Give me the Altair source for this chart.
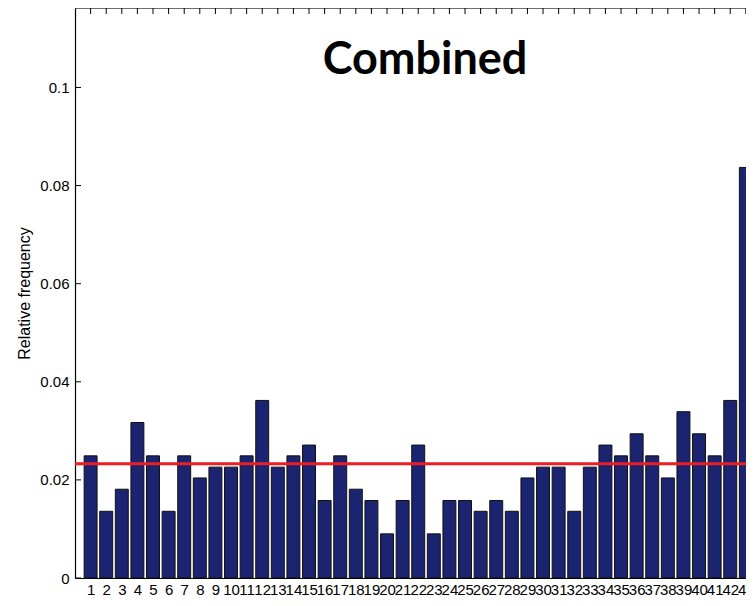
import altair as alt
import pandas as pd

# Data
positions = list(range(1, 44))
rel_freq = [
    0.0249, 0.0136, 0.0181, 0.0317, 0.0249, 0.0136, 0.0249, 0.0204, 0.0226, 0.0226,
    0.0249, 0.0362, 0.0226, 0.0249, 0.0271, 0.0158, 0.0249, 0.0181, 0.0158, 0.0090,
    0.0158, 0.0271, 0.0090, 0.0158, 0.0158, 0.0136, 0.0158, 0.0136, 0.0204, 0.0226,
    0.0226, 0.0136, 0.0226, 0.0271, 0.0249, 0.0294, 0.0249, 0.0204, 0.0339, 0.0294,
    0.0249, 0.0362, 0.0837,
]
expected = 0.0233
y_ticks = [0, 0.02, 0.04, 0.06, 0.08, 0.1]
title_text = "Combined"
y_title = "Relative frequency"

W, H = 671, 570
X_DOMAIN = [0, 43.01]
Y_DOMAIN = [0, 0.1162]

bars_df = pd.DataFrame({"pos": positions, "freq": rel_freq})
ticks_df = pd.DataFrame({"yv": y_ticks})
ref_df = pd.DataFrame({"yv": [expected]})

xs = alt.Scale(domain=X_DOMAIN, nice=False, zero=False)
ys = alt.Scale(domain=Y_DOMAIN, nice=False)

font = "Liberation Sans"

x_axis = alt.Axis(title=None, values=positions, format="d", ticks=False,
                  labelFontSize=15, labelFont=font, labelColor="#000000",
                  labelOverlap=False, labelFlush=False, labelPadding=4,
                  labelBound=False, domainColor="#000000", domainWidth=1.2,
                  grid=False)
y_axis = alt.Axis(title=y_title, values=y_ticks, format="~g", ticks=False,
                  labelFontSize=15, labelFont=font, labelColor="#000000",
                  labelPadding=6, domainColor="#000000", domainWidth=1.2,
                  grid=False, titleFont=font, titleFontSize=16,
                  titleFontWeight="normal", titleColor="#000000",
                  titleAngle=-90, titleX=-51, titleY=H / 2,
                  titleAlign="center", titleBaseline="middle")

bars = alt.Chart(bars_df).transform_calculate(
    x0="datum.pos - 0.415", x1="datum.pos + 0.415"
).mark_bar(color="#1b2470", stroke="#111111", strokeWidth=1, clip=True).encode(
    x=alt.X("x0:Q", scale=xs, axis=x_axis),
    x2="x1:Q",
    y=alt.Y("freq:Q", scale=ys, axis=y_axis),
    y2=alt.datum(0),
)

top_ticks = alt.Chart(bars_df).mark_rule(color="#000000", strokeWidth=1).encode(
    x=alt.X("pos:Q", scale=xs, axis=x_axis), y=alt.value(0), y2=alt.value(6)
)

y_tick_marks = alt.Chart(ticks_df).mark_rule(color="#000000", strokeWidth=1).encode(
    y=alt.Y("yv:Q", scale=ys, axis=y_axis), x=alt.value(0), x2=alt.value(6)
)

top_border = alt.Chart(ref_df).mark_rule(color="#000000", strokeWidth=1.2).encode(
    y=alt.value(0), x=alt.value(0), x2=alt.value(W)
)

ref_line = alt.Chart(ref_df).mark_rule(color="#ee1c25", strokeWidth=3).encode(
    y=alt.Y("yv:Q", scale=ys, axis=y_axis), x=alt.value(0), x2=alt.value(W)
)

title = alt.Chart(ref_df).mark_text(
    text=title_text, font="Lato", fontWeight="bold", fontSize=45,
    color="#000000", align="center", baseline="middle"
).encode(x=alt.value(350), y=alt.value(52))

chart = alt.layer(bars, top_ticks, y_tick_marks, top_border, ref_line, title).properties(
    width=W, height=H,
    autosize=alt.AutoSizeParams(type="none"),
    padding={"left": 67, "top": 0, "right": 0, "bottom": 18},
).configure_view(stroke=None).configure(background="#ffffff")

chart.save("out.html", embed_options={"renderer": "svg", "actions": False})
